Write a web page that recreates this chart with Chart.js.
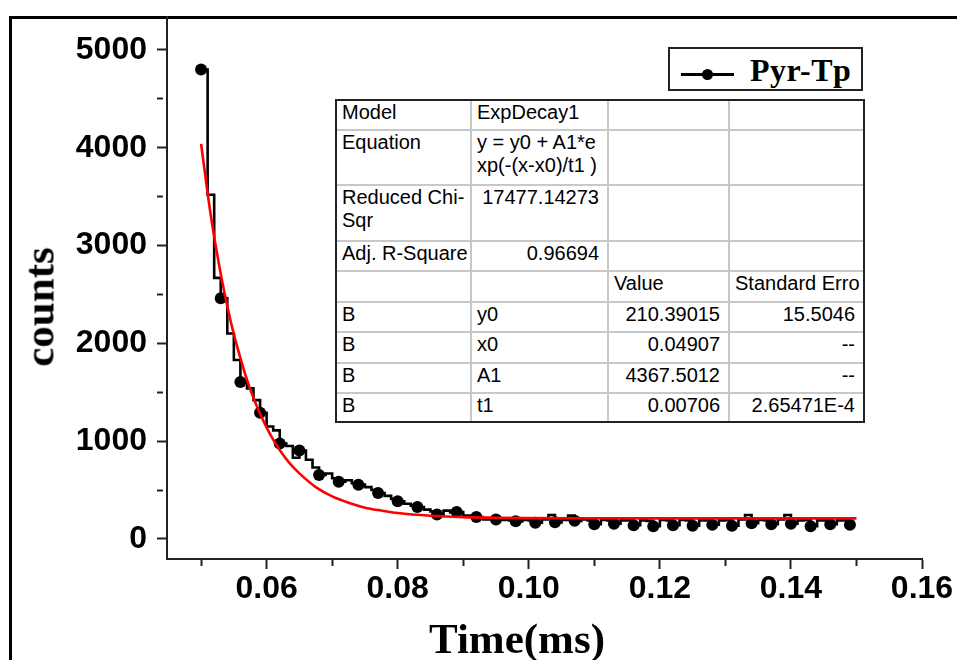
<!DOCTYPE html>
<html>
<head>
<meta charset="utf-8">
<script src="https://cdn.jsdelivr.net/npm/chart.js@4.4.1/dist/chart.umd.min.js"></script>
<style>
html,body{margin:0;padding:0;background:#fff;width:957px;height:660px;overflow:hidden;}
#wrap{position:relative;width:957px;height:660px;overflow:hidden;}
#frame{position:absolute;left:9px;top:16px;width:1000px;height:720px;border:3px solid #000;box-sizing:border-box;}
#c{position:absolute;left:0;top:0;}
.ytitle{position:absolute;left:39px;top:307px;transform:translate(-50%,-50%) rotate(-90deg);font:bold 43px "Liberation Serif","Times New Roman",serif;line-height:1;white-space:nowrap;color:#000;}
.xtitle{position:absolute;left:517px;top:617px;transform:translateX(-50%);font:bold 43px "Liberation Serif","Times New Roman",serif;line-height:1;white-space:nowrap;color:#000;}
#legend{position:absolute;left:668px;top:47px;width:195px;height:44px;border:2px solid #222;box-sizing:border-box;background:#fff;}
#legend .ln{position:absolute;left:11px;top:24px;width:53px;height:3px;background:#000;}
#legend .dot{position:absolute;left:32px;top:20px;width:11px;height:11px;border-radius:50%;background:#000;}
#legend .tx{position:absolute;left:80px;top:5px;font:bold 32px "Liberation Serif","Times New Roman",serif;line-height:1;white-space:nowrap;color:#000;letter-spacing:0.5px;}
#tbl{position:absolute;left:335px;top:99px;border:2px solid #222;background:#fff;display:grid;
  grid-template-columns:135px 137px 121px 133px;
  grid-template-rows:30px 55px 56px 30px 31px 30px 31px 30px 27px;
  font:20px "Liberation Sans",Arial,sans-serif;color:#000;}
#tbl div{box-sizing:border-box;border-right:2px solid #c8c8c8;border-bottom:2px solid #c8c8c8;padding:0 8px 0 5px;line-height:23px;overflow:hidden;white-space:nowrap;}
#tbl div.r{text-align:right;}
#tbl div.lc{border-right:none;}
#tbl div.lr{border-bottom:none;}
</style>
</head>
<body>
<div id="wrap">
  <div id="frame"></div>
  <canvas id="c" width="957" height="660"></canvas>
  <div class="ytitle">counts</div>
  <div class="xtitle">Time(ms)</div>
  <div id="legend"><div class="ln"></div><div class="dot"></div><div class="tx">Pyr-Tp</div></div>
  <div id="tbl">
    <div>Model</div><div>ExpDecay1</div><div></div><div class="lc"></div>
    <div>Equation</div><div>y = y0 + A1*e<br>xp(-(x-x0)/t1 )</div><div></div><div class="lc"></div>
    <div>Reduced Chi-<br>Sqr</div><div class="r">17477.14273</div><div></div><div class="lc"></div>
    <div>Adj. R-Square</div><div class="r">0.96694</div><div></div><div class="lc"></div>
    <div></div><div></div><div>Value</div><div class="lc">Standard Erro</div>
    <div>B</div><div>y0</div><div class="r">210.39015</div><div class="r lc">15.5046</div>
    <div>B</div><div>x0</div><div class="r">0.04907</div><div class="r lc">--</div>
    <div>B</div><div>A1</div><div class="r">4367.5012</div><div class="r lc">--</div>
    <div class="lr">B</div><div class="lr">t1</div><div class="r lr">0.00706</div><div class="r lc lr">2.65471E-4</div>
  </div>
</div>
<script>
// ---- data ----
const times = [
  0.050,0.051,0.052,0.053,0.054,0.055,0.056,0.057,0.058,0.059,
  0.060,0.061,0.062,0.063,0.064,0.065,0.066,0.067,0.068,0.069,
  0.070,0.071,0.072,0.073,0.074,0.075,0.076,0.077,0.078,0.079,
  0.080,0.081,0.082,0.083,0.084,0.085,0.086,0.087,0.088,0.089,
  0.090,0.091,0.092,0.093,0.094,0.095,0.096,0.097,0.098,0.099,
  0.100,0.101,0.102,0.103,0.104,0.105,0.106,0.107,0.108,0.109,
  0.110,0.111,0.112,0.113,0.114,0.115,0.116,0.117,0.118,0.119,
  0.120,0.121,0.122,0.123,0.124,0.125,0.126,0.127,0.128,0.129,
  0.130,0.131,0.132,0.133,0.134,0.135,0.136,0.137,0.138,0.139,
  0.140,0.141,0.142,0.143,0.144,0.145,0.146,0.147,0.148,0.149
];
const counts = [
  4800,3520,2670,2460,2100,1830,1605,1540,1420,1290,
  1150,1110,975,950,830,905,810,730,655,670,
  620,585,600,570,555,530,500,470,440,410,
  385,360,340,327,300,280,250,290,270,275,
  240,230,225,200,205,200,195,190,180,195,
  190,165,200,245,170,195,240,185,200,190,
  150,195,190,155,190,195,140,190,185,130,
  195,190,140,195,190,135,190,195,145,190,
  195,135,200,245,160,195,190,150,200,245,
  155,190,195,130,190,195,150,190,195,145
];
const markerEvery = 3;

// fitted ExpDecay1 curve (red)
const fitTimes  = [0.050,0.0515,0.053,0.0545,0.056,0.0575,0.059,0.0605,0.062,0.0635,0.065,0.0675,0.070,0.0725,0.075,0.0775,0.080,0.085,0.090,0.095,0.100,0.110,0.120,0.130,0.140,0.150];
const fitCounts = [4040,3300,2710,2230,1850,1530,1280,1075,910,775,670,530,435,370,320,290,265,237,223,217,213,211,210,210,210,210];

// axes
const xMin = 0.0448, xMax = 0.16;
const yMin = -205, yMax = 5337;
const xTickValues = [0.05,0.06,0.07,0.08,0.09,0.10,0.11,0.12,0.13,0.14,0.15,0.16];
const xTickLabels = ['','0.06','','0.08','','0.10','','0.12','','0.14','','0.16'];
const yTickValues = [0,500,1000,1500,2000,2500,3000,3500,4000,4500,5000];
const yTickLabels = ['0','','1000','','2000','','3000','','4000','','5000'];

const seriesPoints = times.map((t,i)=>({x:t,y:counts[i]}));
const fitPoints = fitTimes.map((t,i)=>({x:t,y:fitCounts[i]}));

const tickFont = {family:'"Liberation Sans", Arial, sans-serif', size:32, weight:'bold', lineHeight:1};
const axisColor = '#222';

new Chart(document.getElementById('c').getContext('2d'), {
  type: 'line',
  data: {
    datasets: [
      {
        label: 'ExpDecay1 fit',
        data: fitPoints,
        borderColor: '#ff0000',
        borderWidth: 2.6,
        pointRadius: 0,
        cubicInterpolationMode: 'monotone',
        fill: false,
        order: 0
      },
      {
        label: 'Pyr-Tp',
        data: seriesPoints,
        borderColor: '#000',
        borderWidth: 2.6,
        stepped: true,
        pointStyle: 'circle',
        pointRadius: c => (c.dataIndex % markerEvery === 0 ? 6 : 0),
        pointHoverRadius: c => (c.dataIndex % markerEvery === 0 ? 6 : 0),
        pointBackgroundColor: '#000',
        pointBorderColor: '#000',
        pointBorderWidth: 0,
        fill: false,
        order: 1
      }
    ]
  },
  options: {
    responsive: false,
    animation: false,
    devicePixelRatio: 1,
    events: [],
    layout: {padding: {top: 17, right: 35, bottom: 0, left: 0}},
    plugins: {legend: {display: false}, tooltip: {enabled: false}},
    scales: {
      x: {
        type: 'linear',
        min: xMin, max: xMax,
        afterBuildTicks: s => { s.ticks = xTickValues.map(v => ({value: v})); },
        afterFit: s => { s.height = 101; s.paddingLeft = 0; s.paddingRight = 0; },
        border: {display: true, color: axisColor, width: 2},
        grid: {
          display: true, drawOnChartArea: false, drawTicks: true,
          tickLength: 10, tickWidth: 2, tickColor: axisColor,
          tickBorderDash: c => (xTickLabels[c.index] === '' ? [6, 60] : [])
        },
        ticks: {
          autoSkip: false, maxRotation: 0, padding: 4, color: '#000', font: tickFont,
          callback: (v, i) => xTickLabels[i]
        }
      },
      y: {
        type: 'linear',
        min: yMin, max: yMax,
        afterBuildTicks: s => { s.ticks = yTickValues.map(v => ({value: v})); },
        afterFit: s => { s.width = 167; s.paddingTop = 0; s.paddingBottom = 0; },
        border: {display: true, color: axisColor, width: 2},
        grid: {
          display: true, drawOnChartArea: false, drawTicks: true,
          tickLength: 10, tickWidth: 2, tickColor: axisColor,
          tickBorderDash: c => (yTickLabels[c.index] === '' ? [6, 60] : [])
        },
        ticks: {
          autoSkip: false, padding: 10, color: '#000', font: tickFont,
          callback: (v, i) => yTickLabels[i]
        }
      }
    }
  }
});
</script>
</body>
</html>
